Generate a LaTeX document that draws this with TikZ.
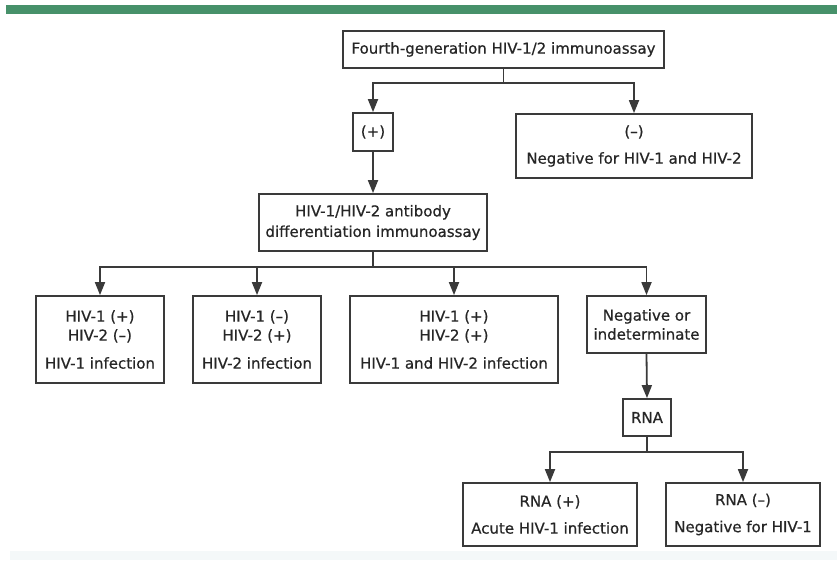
\documentclass[tikz,border=0pt]{standalone}
\usepackage{fontspec}
\setmainfont{DejaVu Sans}
\newfontfamily\boxfont[FakeBold=0.6]{DejaVu Sans}
\usetikzlibrary{arrows.meta}
\definecolor{barc}{HTML}{47916A}
\definecolor{boxc}{HTML}{3A3A3A}
\definecolor{txtc}{HTML}{262626}
\definecolor{stripc}{HTML}{F4F8F9}
\tikzset{
  box/.style={draw=boxc, line width=1.8pt, fill=white, inner sep=0pt, align=center,
    text=txtc, font=\boxfont\fontsize{15pt}{19pt}\selectfont},
  ln/.style={draw=boxc, line width=1.8pt},
  arr/.style={ln, -{Triangle[length=13pt,width=10pt]}}
}
\begin{document}
\begin{tikzpicture}[x=1pt,y=-1pt]
\useasboundingbox (0,0) rectangle (837,560);
\fill[white] (0,0) rectangle (837,560);
\fill[barc] (6,5) rectangle (837,14);
\fill[stripc] (10,551) rectangle (837,560);

\node[box, minimum width=321pt, minimum height=37pt] (top) at (503.5,49.5) {Fourth-generation HIV-1/2 immunoassay};
\node[box, minimum width=40pt, minimum height=38pt] (plus) at (373,132) {(+)};
\node[box, minimum width=236pt, minimum height=64pt] (neg) at (634,146) {(–)\\[8pt]Negative for HIV-1 and HIV-2};
\node[box, minimum width=228pt, minimum height=57pt] (ab) at (373,222.5) {HIV-1/HIV-2 antibody\\[1.5pt]differentiation immunoassay};
\node[box, minimum width=128pt, minimum height=87pt] (b1) at (100,339.5) {HIV-1 (+)\\HIV-2 (–)\\[9pt]HIV-1 infection};
\node[box, minimum width=128pt, minimum height=87pt] (b2) at (257,339.5) {HIV-1 (–)\\HIV-2 (+)\\[9pt]HIV-2 infection};
\node[box, minimum width=208pt, minimum height=87pt] (b3) at (454,339.5) {HIV-1 (+)\\HIV-2 (+)\\[9pt]HIV-1 and HIV-2 infection};
\node[box, minimum width=119pt, minimum height=57pt] (b4) at (646.5,324.5) {Negative or\\indeterminate};
\node[box, minimum width=48pt, minimum height=37pt] (rna) at (647,417.5) {RNA};
\node[box, minimum width=174pt, minimum height=63pt] (r1) at (550,514.5) {RNA (+)\\[8pt]Acute HIV-1 infection};
\node[box, minimum width=154pt, minimum height=63pt] (r2) at (743,514.5) {RNA (–)\\[8pt]Negative for HIV-1};

\coordinate (j1) at (503.5,83);
\draw[ln] (top.south) -- (j1);
\draw[arr] (j1) -| (plus.north);
\draw[arr] (j1) -| (neg.north);
\draw[arr] (plus.south) -- (ab.north);

\coordinate (j2) at (373,267);
\draw[ln] (ab.south) -- (j2);
\draw[arr] (j2) -| (b1.north);
\draw[arr] (j2) -| (b2.north);
\draw[arr] (j2) -| (b3.north);
\draw[arr] (j2) -| (b4.north);

\draw[arr] (b4.south) -- (rna.north);
\coordinate (j3) at (647,452);
\draw[ln] (rna.south) -- (j3);
\draw[arr] (j3) -| (r1.north);
\draw[arr] (j3) -| (r2.north);
\end{tikzpicture}
\end{document}
